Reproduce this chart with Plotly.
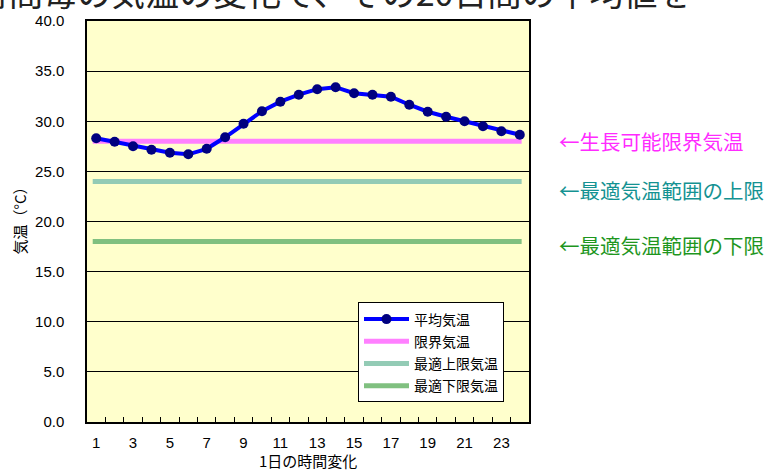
import plotly.graph_objects as go

# Hourly mean temperature (°C) over the day
hours = list(range(1, 25))
avg_temp = [28.3, 27.95, 27.5, 27.15, 26.85, 26.7, 27.25, 28.4, 29.75, 31.0,
            31.95, 32.65, 33.2, 33.4, 32.8, 32.65, 32.45, 31.65, 30.95, 30.45,
            30.0, 29.5, 29.0, 28.65]

# Threshold temperatures (°C)
limit_temp = 28.0       # 限界気温
upper_opt_temp = 24.0   # 最適上限気温
lower_opt_temp = 18.0   # 最適下限気温
ref_span = [0.81, 24.1]  # horizontal extent of the threshold lines (hour axis)

x_ticks = list(range(1, 25, 2))
x_bounds = [h + 0.5 for h in range(1, 24)]
y_ticks = [v * 5.0 for v in range(0, 9)]

W, H = 784, 475
L, R, T, B = 87, 255, 16, 53
pw, ph = W - L - R, H - T - B


def px(xp):
    return (xp - L) / pw


def py(yp):
    return (H - B - yp) / ph


num_font = "Liberation Sans, Arial"
jp_font = "Noto Sans CJK JP, sans-serif"

fig = go.Figure()

fig.add_trace(go.Scatter(
    x=ref_span, y=[limit_temp] * 2, mode="lines", name="限界気温",
    line=dict(color="#FF80FF", width=5), legendgroup="b", legendrank=2))
fig.add_trace(go.Scatter(
    x=ref_span, y=[upper_opt_temp] * 2, mode="lines", name="最適上限気温",
    line=dict(color="#93CBB5", width=5), legendgroup="c", legendrank=3))
fig.add_trace(go.Scatter(
    x=ref_span, y=[lower_opt_temp] * 2, mode="lines", name="最適下限気温",
    line=dict(color="#80C080", width=5), legendgroup="d", legendrank=4))
fig.add_trace(go.Scatter(
    x=hours, y=avg_temp, mode="lines+markers", name="平均気温",
    line=dict(color="#0000FF", width=4),
    marker=dict(color="#000080", size=10), legendgroup="a", legendrank=1))

annotations = [
    dict(text="時間毎の気温の変化で、その20日間の平均値を",
         x=px(-27), y=py(-14), xanchor="left", yanchor="middle",
         font=dict(family=jp_font, size=34, color="#222222")),
    dict(text="気温（°C）", x=px(20), y=py(215), textangle=-90,
         xanchor="center", yanchor="middle",
         font=dict(family=jp_font, size=15, color="#000000")),
    dict(text="1日の時間変化", x=0.5, y=py(461), xanchor="center",
         yanchor="middle", font=dict(family=jp_font, size=15, color="#000000")),
    dict(text="←生長可能限界気温", x=px(557), y=py(138), xanchor="left",
         yanchor="middle", font=dict(family=jp_font, size=20.5, color="#FF2BFF")),
    dict(text="←最適気温範囲の上限", x=px(557), y=py(187), xanchor="left",
         yanchor="middle", font=dict(family=jp_font, size=20.5, color="#149292")),
    dict(text="←最適気温範囲の下限", x=px(557), y=py(243), xanchor="left",
         yanchor="middle", font=dict(family=jp_font, size=20.5, color="#1E961E")),
]
for a in annotations:
    a.update(xref="paper", yref="paper", showarrow=False)

fig.update_layout(
    width=W, height=H,
    margin=dict(l=L, r=R, t=T, b=B, pad=0),
    paper_bgcolor="#FFFFFF",
    plot_bgcolor="#FFFFCC",
    annotations=annotations,
    legend=dict(
        x=px(358), y=py(301), xanchor="left", yanchor="top",
        bgcolor="#FFFFFF", bordercolor="#000000", borderwidth=1,
        font=dict(family=jp_font, size=14, color="#000000"),
        traceorder="grouped", tracegroupgap=1,
        itemwidth=45,
    ),
    xaxis=dict(
        range=[0.5, 24.5], tickvals=x_ticks, ticktext=[str(v) for v in x_ticks],
        ticks="", showgrid=False, zeroline=False,
        showline=True, linecolor="#000000", linewidth=1.5, mirror=True,
        ticklabelstandoff=6,
        tickfont=dict(family=num_font, size=15, color="#000000"),
        minor=dict(tickvals=x_bounds, ticks="inside", ticklen=5,
                   tickcolor="#000000", tickwidth=1, showgrid=False),
    ),
    yaxis=dict(
        range=[0, 40], tickvals=y_ticks,
        ticktext=[f"{v:.1f}" for v in y_ticks],
        ticks="", showgrid=True, gridcolor="#000000", gridwidth=1,
        zeroline=False,
        showline=True, linecolor="#000000", linewidth=1.5, mirror=True,
        ticklabelstandoff=18,
        tickfont=dict(family=num_font, size=15, color="#000000"),
    ),
)

fig.write_html("out.html")
